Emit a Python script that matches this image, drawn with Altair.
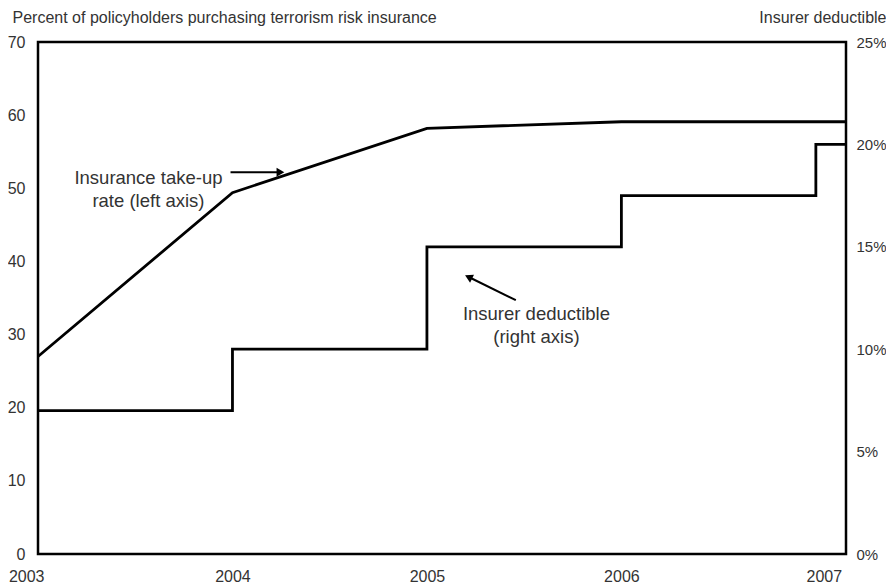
import altair as alt
import pandas as pd

# Insurance take-up rate (left axis, percent of policyholders)
takeup_x = [2003.0, 2004.0, 2005.0, 2006.0, 2007.155]
takeup_y = [27.0, 49.4, 58.2, 59.1, 59.1]

# Insurer deductible (right axis, percent)
deduct_x = [2003.0, 2004.0, 2005.0, 2006.0, 2007.0, 2007.155]
deduct_y = [7.0, 10.0, 15.0, 17.5, 20.0, 20.0]

year_ticks = [2003, 2004, 2005, 2006, 2007]
left_ticks = [0, 10, 20, 30, 40, 50, 60, 70]
right_ticks = [0, 5, 10, 15, 20, 25]

# annotation text (left-axis coordinates)
note_text = ["Insurance take-up", "rate (left axis)", "Insurer deductible", "(right axis)"]
note_x = [2003.568, 2003.568, 2005.563, 2005.563]
note_y = [51.4, 48.3, 32.8, 29.7]

# arrows: tail -> head
arrow_id = ["a1", "a2"]
arrow_x0 = [2003.99, 2005.457]
arrow_y0 = [52.2, 34.7]
arrow_x1 = [2004.24, 2005.22]
arrow_y1 = [52.2, 37.8]
arrow_angle = [90, 296]

FONT = "Liberation Sans"
TXT = "#333333"

xdom = [2003, 2007.155]
xscale = alt.Scale(domain=xdom, nice=False, zero=False)
lscale = alt.Scale(domain=[0, 70], nice=False)
rscale = alt.Scale(domain=[0, 25], nice=False)

df_take = pd.DataFrame({"x": takeup_x, "y": takeup_y})
df_ded = pd.DataFrame({"x": deduct_x, "y": deduct_y})
df_note = pd.DataFrame({"x": note_x, "y": note_y, "t": note_text})
df_arrow = pd.DataFrame({
    "id": arrow_id * 2,
    "x": arrow_x0 + arrow_x1,
    "y": arrow_y0 + arrow_y1,
})
df_head = pd.DataFrame({"x": arrow_x1, "y": arrow_y1, "a": arrow_angle})

xenc = alt.X("x:Q", scale=xscale, axis=alt.Axis(
    values=year_ticks, format="d", title=None, grid=False, ticks=False,
    domain=False, labelFont=FONT, labelFontSize=16, labelColor=TXT,
    labelPadding=14, labelFlush=False,
    labelAlign=alt.expr("datum.value == 2003 ? 'right' : 'center'"),
    labelOffset=alt.expr("datum.value == 2007 ? 8 : (datum.value == 2003 ? 6 : 0)")))

left_axis = alt.Axis(
    values=left_ticks, title="Percent of policyholders purchasing terrorism risk insurance",
    titleAngle=0, titleAlign="left", titleBaseline="middle", titleX=-26, titleY=-25,
    titleFont=FONT, titleFontSize=16, titleFontWeight="normal", titleColor=TXT,
    grid=False, ticks=False, domain=False, labelFont=FONT, labelFontSize=16,
    labelColor=TXT, labelPadding=13)

right_axis = alt.Axis(
    orient="right", values=right_ticks, labelExpr="datum.value + '%'",
    title="Insurer deductible", titleAngle=0, titleAlign="right", titleBaseline="middle",
    titleX=40, titleY=-25, titleFont=FONT, titleFontSize=16, titleFontWeight="normal",
    titleColor=TXT, grid=False, ticks=False, domain=False, labelFont=FONT,
    labelFontSize=15, labelColor=TXT, labelPadding=10)

take_line = alt.Chart(df_take).mark_line(color="black", strokeWidth=2.8).encode(
    x=xenc, y=alt.Y("y:Q", scale=lscale, axis=left_axis))

notes = alt.Chart(df_note).mark_text(font=FONT, fontSize=18.5, color=TXT).encode(
    x=alt.X("x:Q", scale=xscale), y=alt.Y("y:Q", scale=lscale), text="t:N")

arrows = alt.Chart(df_arrow).mark_line(color="black", strokeWidth=2).encode(
    x=alt.X("x:Q", scale=xscale), y=alt.Y("y:Q", scale=lscale), detail="id:N")

heads = alt.Chart(df_head).mark_point(shape="triangle", filled=True, color="black",
                                      size=80, opacity=1).encode(
    x=alt.X("x:Q", scale=xscale), y=alt.Y("y:Q", scale=lscale), angle=alt.Angle("a:Q", scale=None))

left = alt.layer(take_line, arrows, heads, notes)

ded_line = alt.Chart(df_ded).mark_line(color="black", strokeWidth=2.8, interpolate="step-after").encode(
    x=alt.X("x:Q", scale=xscale), y=alt.Y("y:Q", scale=rscale, axis=right_axis))

chart = alt.layer(left, ded_line).resolve_scale(y="independent").properties(
    width=808, height=512,
    background="white",
    autosize=alt.AutoSizeParams(type="none"),
    padding={"left": 30, "top": 34, "right": 40, "bottom": 32},
).configure_view(stroke="black", strokeWidth=2.5)

chart.save("out.html", embed_options={"renderer": "svg", "actions": False})
